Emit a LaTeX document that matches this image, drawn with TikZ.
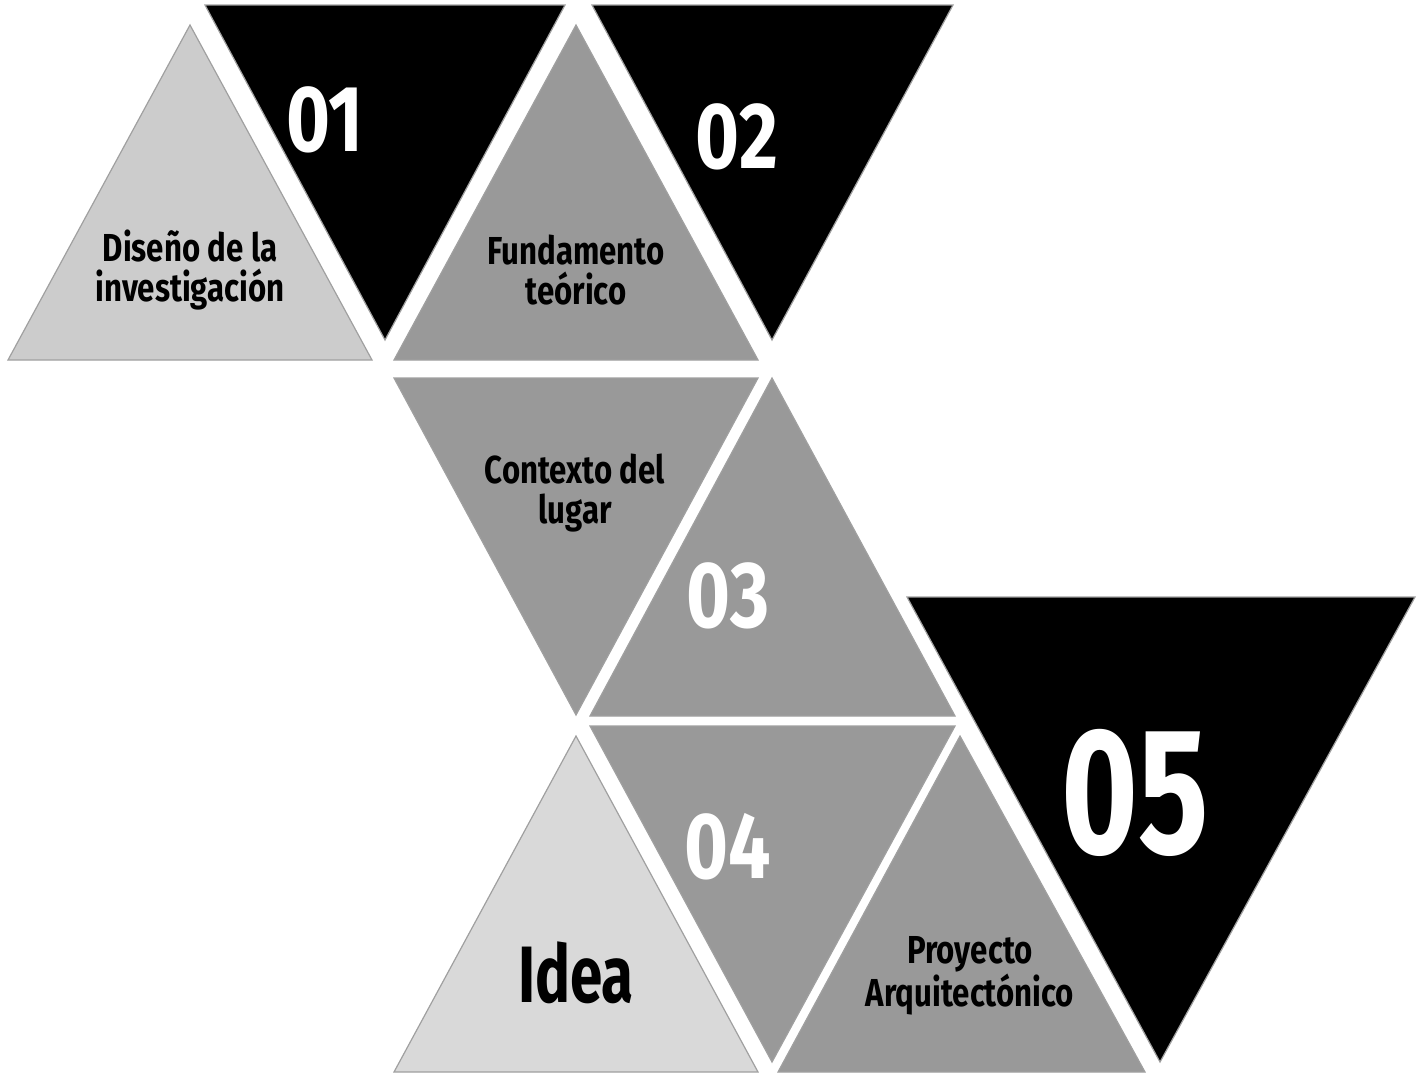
\documentclass[tikz,border=0pt]{standalone}
\usepackage{fontspec}
\usepackage{tikz}
\newfontfamily\oswald[FakeStretch=0.8]{Fira Sans}
\newfontfamily\oswaldcond[FakeStretch=0.73]{Fira Sans}
\definecolor{palegray}{HTML}{CCCCCC}
\definecolor{idealgray}{HTML}{D9D9D9}
\definecolor{midgray}{HTML}{999999}
\definecolor{edgegray}{HTML}{A0A0A0}

\begin{document}
\begin{tikzpicture}[x=0.5pt, y=-0.5pt,
    tri/.style={draw=edgegray, line width=0.6pt},
    label/.style={font=\oswald\bfseries\fontsize{19.5}{20}\selectfont, align=center, inner sep=0pt},
    number/.style={font=\oswald\bfseries\fontsize{47}{47}\selectfont, text=white, inner sep=0pt}]
  \useasboundingbox (0,0) rectangle (1427,1072);

  % upper row
  \filldraw[tri, fill=palegray] (190,25)  -- (372,360) -- (8,360)   -- cycle;
  \filldraw[tri, fill=black]    (205,5)   -- (565,5)   -- (385,340) -- cycle;
  \filldraw[tri, fill=midgray]  (576,25)  -- (758,360) -- (394,360) -- cycle;
  \filldraw[tri, fill=black]    (592,5)   -- (953,5)   -- (772,340) -- cycle;

  % middle row
  \filldraw[tri, fill=midgray]  (394,378) -- (758,378) -- (576,715) -- cycle;
  \filldraw[tri, fill=midgray]  (772,378) -- (955,716) -- (590,716) -- cycle;
  \filldraw[tri, fill=black]    (907,597) -- (1415,597) -- (1160,1062) -- cycle;

  % lower row
  \filldraw[tri, fill=midgray]  (590,726) -- (955,726) -- (772,1062) -- cycle;
  \filldraw[tri, fill=idealgray] (576,736) -- (758,1072) -- (394,1072) -- cycle;
  \filldraw[tri, fill=midgray]  (960,736) -- (1145,1072) -- (778,1072) -- cycle;

  % texts
  \node[label]  (diseno)    at (190,270)  {Diseño de la\\investigación};
  \node[number] (n01)       at (325,120)  {01};
  \node[label]  (fundamento) at (576,270) {Fundamento\\teórico};
  \node[number] (n02)       at (737,137)  {02};
  \node[label]  (contexto)  at (575,493)  {Contexto del\\lugar};
  \node[number] (n03)       at (728,596)  {03};
  \node[number] (n04)       at (728,847)  {04};
  \node[number, font=\oswaldcond\bfseries\fontsize{90}{90}\selectfont] (n05) at (1135,793) {05};
  \node[label, font=\oswaldcond\bfseries\fontsize{40}{40}\selectfont] (idea) at (576,973) {Idea};
  \node[label, font=\oswald\bfseries\fontsize{19.5}{21.5}\selectfont] (proyecto) at (970,976) {Proyecto\\Arquitectónico};
\end{tikzpicture}
\end{document}
